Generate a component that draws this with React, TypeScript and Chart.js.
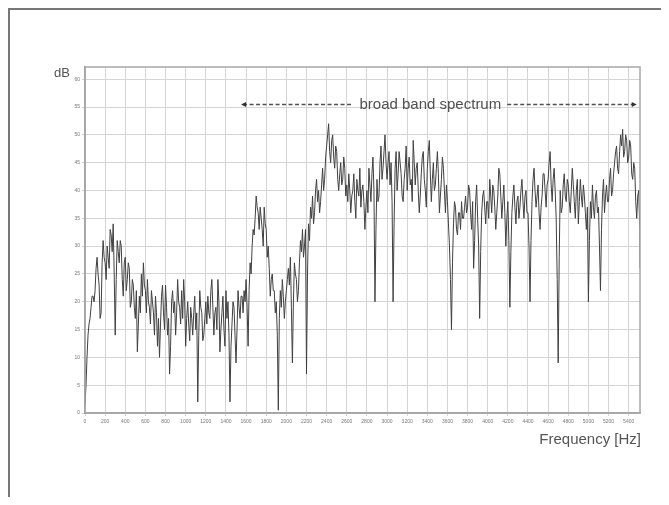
import React, { useEffect, useRef } from "react";
import { Chart, registerables } from "chart.js";

Chart.register(...registerables);

// Frequency step of the sampled spectrum (Hz) and axis extents
const freqStepHz = 10;
const freqMaxHz = 5512.5;
const dbMax = 62.2;

// Spectrum level in dB, one value every 10 Hz from 0 Hz (one row = 200 Hz), last value at 5512.5 Hz
const spectrumDb: number[] = [
  1.5, 5, 10, 14, 16, 17, 19, 21, 21, 20, 22, 26, 28, 25, 23, 17, 18, 27, 31, 28,
  27, 24, 30, 28, 26, 33, 32, 29, 34, 25, 14, 24, 31, 29, 27, 31, 30, 24, 21, 27,
  28, 22, 24, 27, 26, 19, 20, 24, 23, 19, 17, 22, 11, 16, 21, 18, 25, 21, 27, 23,
  22, 18, 24, 20, 19, 16, 22, 20, 18, 14, 21, 18, 12, 17, 10, 16, 21, 23, 18, 15,
  23, 19, 14, 17, 7, 12, 20, 22, 18, 20, 14, 18, 24, 20, 19, 16, 22, 17, 24, 20,
  12, 17, 20, 16, 13, 19, 17, 14, 18, 21, 15, 18, 2, 14, 22, 19, 18, 13, 14, 17,
  20, 16, 21, 18, 17, 22, 24, 19, 14, 18, 19, 15, 24, 20, 11, 15, 18, 21, 15, 12,
  22, 17, 20, 14, 2, 12, 16, 20, 19, 14, 9, 15, 22, 19, 17, 21, 21, 18, 22, 20,
  24, 19, 12, 22, 27, 25, 30, 33, 32, 35, 39, 37, 36, 33, 37, 35, 33, 30, 37, 34,
  33, 28, 30, 26, 21, 24, 25, 22, 22, 18, 20, 14, 0.5, 17, 22, 19, 24, 21, 17, 20,
  22, 24, 26, 23, 28, 19, 9, 20, 27, 25, 24, 20, 22, 27, 31, 29, 33, 28, 30, 33,
  7, 25, 34, 31, 37, 35, 39, 34, 36, 40, 42, 38, 40, 36, 38, 41, 44, 40, 42, 46,
  48, 50, 52, 47, 45, 49, 50, 46, 44, 48, 47, 42, 40, 43, 45, 41, 42, 46, 44, 39,
  41, 38, 43, 40, 36, 39, 40, 43, 38, 35, 42, 40, 39, 44, 37, 40, 41, 38, 33, 37,
  40, 36, 44, 41, 38, 43, 46, 40, 20, 33, 42, 38, 39, 45, 48, 42, 44, 47, 50, 45,
  42, 45, 47, 41, 45, 38, 20, 34, 44, 47, 40, 43, 47, 45, 43, 39, 38, 42, 44, 48,
  40, 44, 46, 41, 42, 38, 49, 45, 41, 44, 45, 40, 36, 39, 43, 46, 47, 42, 40, 37,
  44, 47, 49, 43, 38, 42, 45, 40, 41, 44, 47, 43, 36, 39, 42, 46, 44, 40, 36, 41,
  38, 34, 30, 24, 15, 27, 34, 38, 37, 33, 32, 36, 36, 33, 38, 35, 35, 37, 39, 36,
  37, 41, 40, 36, 33, 38, 26, 31, 38, 41, 35, 30, 17, 29, 36, 39, 40, 37, 34, 38,
  38, 35, 42, 39, 36, 41, 40, 37, 33, 36, 39, 44, 43, 39, 35, 38, 41, 36, 30, 35,
  38, 31, 19, 29, 36, 39, 41, 37, 34, 38, 39, 35, 37, 40, 42, 38, 35, 39, 40, 36,
  36, 30, 20, 31, 38, 42, 44, 40, 37, 39, 41, 36, 33, 37, 39, 43, 43, 40, 37, 41,
  42, 45, 47, 41, 38, 42, 44, 40, 35, 24, 9, 28, 40, 36, 37, 41, 43, 39, 38, 42,
  41, 38, 36, 40, 44, 41, 38, 35, 40, 42, 34, 38, 42, 39, 37, 41, 39, 36, 33, 37,
  20, 31, 38, 35, 41, 37, 35, 39, 40, 36, 37, 30, 22, 33, 39, 42, 36, 39, 41, 38,
  38, 42, 44, 39, 40, 43, 45, 47, 48, 44, 43, 47, 50, 48, 51, 46, 47, 50, 49, 45,
  46, 49, 48, 43, 42, 45, 44, 38, 35, 39, 40, 33, 26,
];

const xTickValues = [
  0, 200, 400, 600, 800, 1000, 1200, 1400, 1600, 1800, 2000, 2200, 2400, 2600,
  2800, 3000, 3200, 3400, 3600, 3800, 4000, 4200, 4400, 4600, 4800, 5000, 5200, 5400,
];
const yTickValues = [0, 5, 10, 15, 20, 25, 30, 35, 40, 45, 50, 55, 60];

const yAxisLabel = "dB";
const xAxisLabel = "Frequency [Hz]";
const bandLabel = "broad band spectrum";
const bandStartHz = 1550;
const bandEndHz = 5480;
const bandCenterHz = 3430;
const bandLevelDb = 55.5;

const CANVAS_W = 659;
const CANVAS_H = 487;
const FONT = "'Liberation Sans', Arial, sans-serif";

const decorPlugin = {
  id: "decor",
  afterDraw(chart: any) {
    const { ctx, chartArea, scales } = chart;
    const xs = scales.x;
    const ys = scales.y;
    ctx.save();
    // frame around plot
    ctx.strokeStyle = "#a8a8a8";
    ctx.lineWidth = 1.5;
    ctx.strokeRect(chartArea.left, chartArea.top, chartArea.right - chartArea.left, chartArea.bottom - chartArea.top);

    // dB label
    ctx.fillStyle = "#555";
    ctx.font = "13px " + FONT;
    ctx.textAlign = "right";
    ctx.textBaseline = "middle";
    ctx.fillText(yAxisLabel, chartArea.left - 15, chartArea.top + 6);

    // Frequency label
    ctx.font = "15px " + FONT;
    ctx.textAlign = "right";
    ctx.fillText(xAxisLabel, chartArea.right + 1, chartArea.bottom + 27);

    // broad band annotation
    const yb = Math.round(ys.getPixelForValue(bandLevelDb)) + 0.5;
    const xs0 = xs.getPixelForValue(bandStartHz);
    const xs1 = xs.getPixelForValue(bandEndHz);
    const xc = xs.getPixelForValue(bandCenterHz);
    ctx.font = "15px " + FONT;
    ctx.textAlign = "center";
    ctx.fillStyle = "#505050";
    ctx.fillText(bandLabel, xc, yb);
    const tw = ctx.measureText(bandLabel).width;
    ctx.strokeStyle = "#505050";
    ctx.lineWidth = 1.3;
    ctx.setLineDash([4, 2.5]);
    ctx.beginPath();
    ctx.moveTo(xs0 + 2, yb);
    ctx.lineTo(xc - tw / 2 - 6, yb);
    ctx.moveTo(xc + tw / 2 + 6, yb);
    ctx.lineTo(xs1 - 2, yb);
    ctx.stroke();
    ctx.setLineDash([]);
    ctx.fillStyle = "#333";
    ctx.beginPath();
    ctx.moveTo(xs0, yb);
    ctx.lineTo(xs0 + 5, yb - 2.5);
    ctx.lineTo(xs0 + 5, yb + 2.5);
    ctx.closePath();
    ctx.fill();
    ctx.beginPath();
    ctx.moveTo(xs1, yb);
    ctx.lineTo(xs1 - 5, yb - 2.5);
    ctx.lineTo(xs1 - 5, yb + 2.5);
    ctx.closePath();
    ctx.fill();
    ctx.restore();
  },
};

export default function App() {
  const ref = useRef<HTMLCanvasElement | null>(null);

  useEffect(() => {
    if (!ref.current) return;
    const points = spectrumDb.map((v, i) => ({ x: Math.min(i * freqStepHz, freqMaxHz), y: v }));
    const chart = new Chart(ref.current, {
      type: "line",
      data: {
        datasets: [
          {
            data: points,
            borderColor: "#404040",
            borderWidth: 1,
            pointRadius: 0,
            tension: 0,
            fill: false,
          },
        ],
      },
      options: {
        responsive: false,
        animation: false,
        layout: { padding: { left: 0, top: 57, right: 29, bottom: 0 } },
        plugins: { legend: { display: false }, tooltip: { enabled: false } },
        scales: {
          x: {
            type: "linear",
            min: 0,
            max: freqMaxHz,
            afterBuildTicks: (s: any) => {
              s.ticks = xTickValues.map((v) => ({ value: v }));
            },
            afterFit: (s: any) => {
              s.height = 84;
            },
            ticks: {
              autoSkip: false,
              maxRotation: 0,
              color: "#777",
              padding: 3,
              font: { size: 5, family: FONT },
              callback: (v: any) => String(v),
            },
            grid: { color: "#d4d4d4", lineWidth: 1, tickLength: 3 },
            border: { color: "#999", width: 1.5 },
          },
          y: {
            min: 0,
            max: dbMax,
            afterBuildTicks: (s: any) => {
              s.ticks = yTickValues.map((v) => ({ value: v }));
            },
            afterFit: (s: any) => {
              s.width = 75;
            },
            ticks: {
              color: "#777",
              padding: 2,
              font: { size: 5, family: FONT },
              callback: (v: any) => String(v),
            },
            grid: { color: "#d4d4d4", lineWidth: 1, tickLength: 3 },
            border: { color: "#999", width: 1.5 },
          },
        },
      },
      plugins: [decorPlugin],
    });
    return () => chart.destroy();
  }, []);

  return (
    <div
      style={{
        borderTop: "2px solid #777",
        borderLeft: "2px solid #777",
        width: CANVAS_W,
        height: CANVAS_H,
        background: "#fff",
      }}
    >
      <canvas ref={ref} width={CANVAS_W} height={CANVAS_H} style={{ display: "block" }} />
    </div>
  );
}
